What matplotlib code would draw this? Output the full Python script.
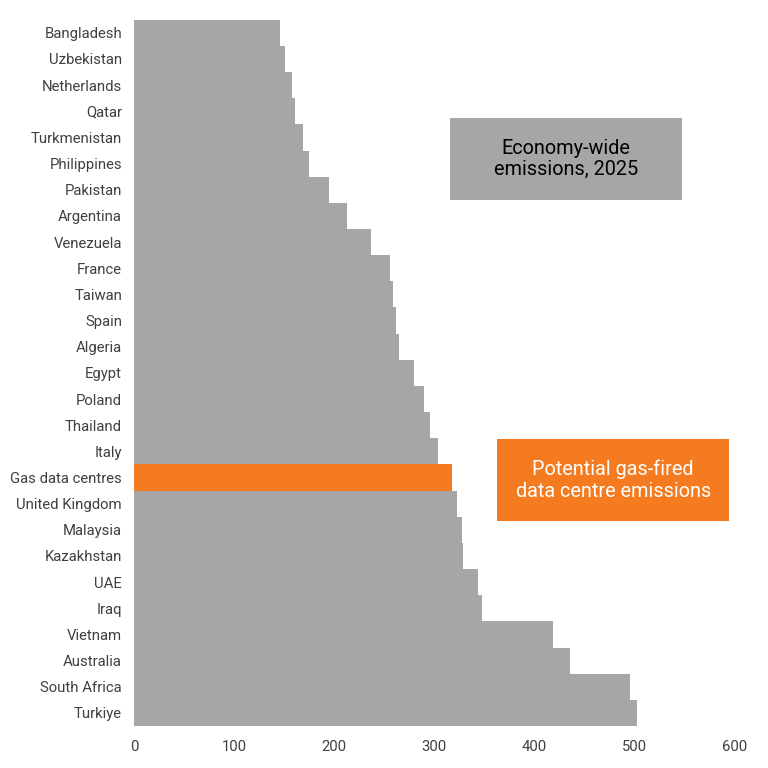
import matplotlib
matplotlib.use("Agg")
import matplotlib.pyplot as plt
from matplotlib.patches import Rectangle

# ---------------------------------------------------------------------------
# Data (MtCO2), top to bottom as shown
# ---------------------------------------------------------------------------
countries = [
    "Bangladesh", "Uzbekistan", "Netherlands", "Qatar", "Turkmenistan",
    "Philippines", "Pakistan", "Argentina", "Venezuela", "France", "Taiwan",
    "Spain", "Algeria", "Egypt", "Poland", "Thailand", "Italy",
    "Gas data centres", "United Kingdom", "Malaysia", "Kazakhstan", "UAE",
    "Iraq", "Vietnam", "Australia", "South Africa", "Turkiye",
]
emissions = [
    145.4, 150.8, 158.1, 160.4, 169.3,
    175.0, 195.0, 212.7, 236.7, 255.6, 259.3,
    261.7, 264.6, 279.3, 289.9, 296.2, 303.9,
    317.9, 323.0, 328.2, 328.8, 343.9,
    348.2, 418.8, 436.1, 495.4, 503.0,
]
highlight = "Gas data centres"
x_ticks = [0, 100, 200, 300, 400, 500, 600]

GREY = "#a6a6a6"
ORANGE = "#f47b20"
TEXT = "#404040"

plt.rcParams["font.family"] = ["Roboto", "DejaVu Sans"]

fig = plt.figure(figsize=(7.68, 7.68), dpi=100)
ax = fig.add_axes([0.1745, 0.0547, 0.7818, 0.9196])

colors = [ORANGE if c == highlight else GREY for c in countries]
ypos = list(range(len(countries)))
ax.barh(ypos, emissions, height=1.0, color=colors, edgecolor="none")

ax.set_ylim(len(countries) - 0.5, -0.5)
ax.set_xlim(0, 600)
ax.set_yticks(ypos)
ax.set_yticklabels(countries, fontsize=10.7, color=TEXT)
ax.set_xticks(x_ticks)
ax.set_xticklabels([str(t) for t in x_ticks], fontsize=10.7, color=TEXT)
ax.tick_params(axis="both", length=0)
ax.tick_params(axis="y", pad=8.6)
ax.tick_params(axis="x", pad=10)
for side in ax.spines.values():
    side.set_visible(False)

# annotation boxes
boxes = [
    (0.586, 0.7396, 0.3017, 0.1068, GREY, "black", "Economy-wide\nemissions, 2025"),
    (0.6475, 0.3216, 0.302, 0.1064, ORANGE, "white",
     "Potential gas-fired\ndata centre emissions"),
]
for x0, y0, w, h, fc, tc, label in boxes:
    fig.patches.append(Rectangle((x0, y0), w, h, transform=fig.transFigure,
                                 facecolor=fc, edgecolor="none", zorder=3))
    fig.text(x0 + w / 2, y0 + h / 2, label, ha="center", va="center",
             fontsize=14.3, color=tc, linespacing=1.17, zorder=4)

fig.savefig("out.png", dpi=100)
